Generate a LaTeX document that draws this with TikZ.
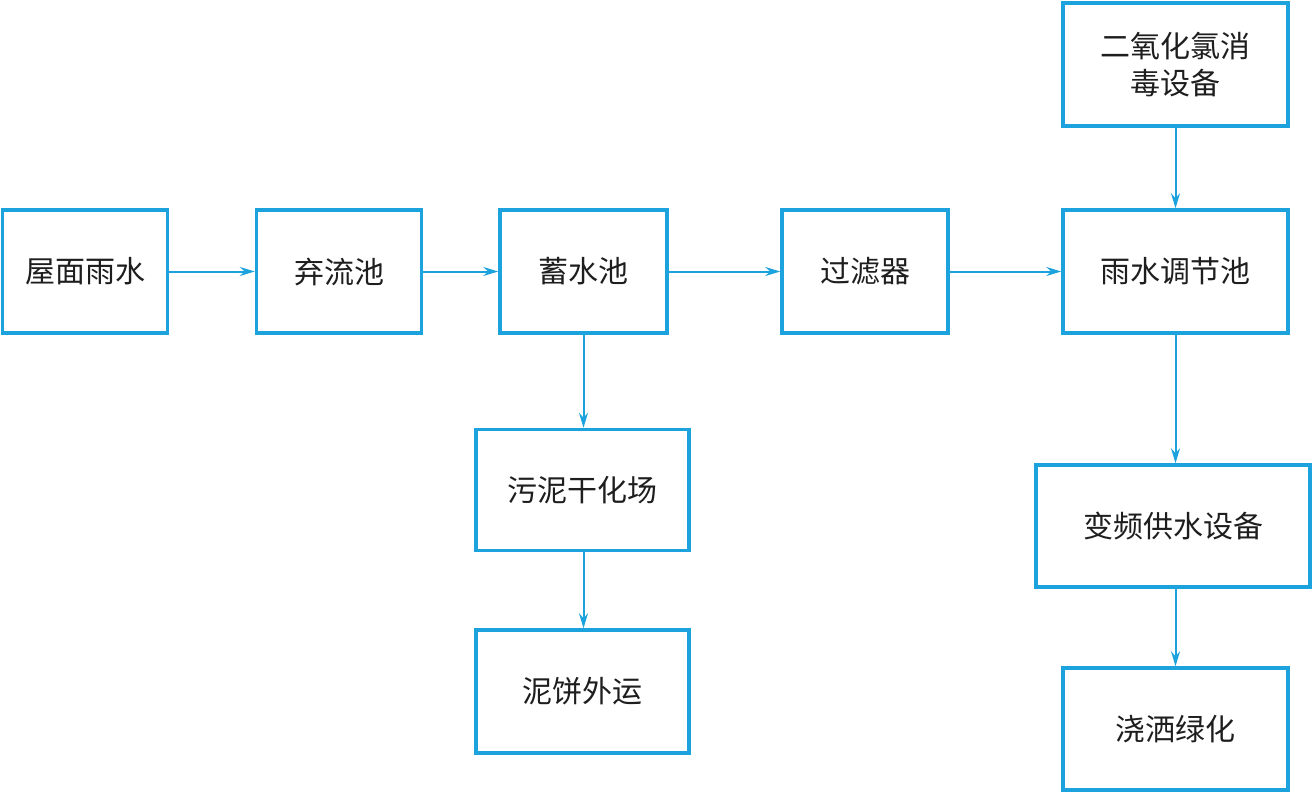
\documentclass[tikz,border=0pt]{standalone}
\usepackage{fontspec}
\newfontfamily\cjk{Noto Sans CJK SC}
\usetikzlibrary{arrows.meta}
\definecolor{lineblue}{HTML}{1CA3DD}
\definecolor{txt}{HTML}{1E1E1E}
\tikzset{
  box/.style={draw=lineblue, line width=3.5pt, rectangle, inner sep=0pt,
    minimum height=123pt, text=txt, font=\cjk\fontsize{30}{37}\selectfont, align=center},
  conn/.style={draw=lineblue, line width=2pt,
    -{Stealth[length=15pt,width=9pt,inset=5pt]}}
}
\begin{document}
\begin{tikzpicture}[x=1pt,y=-1pt]
\useasboundingbox (0,0) rectangle (1313,794);
\node[box, minimum width=165pt] (a) at (85,271.5) {屋面雨水};
\node[box, minimum width=165pt] (b) at (339,271.5) {弃流池};
\node[box, minimum width=167pt] (c) at (583.5,271.5) {蓄水池};
\node[box, minimum width=166pt] (d) at (865,271.5) {过滤器};
\node[box, minimum width=225pt] (e) at (1175.5,271.5) {雨水调节池};
\node[box, minimum width=225pt] (f) at (1175.5,64.5) {二氧化氯消\\毒设备};
\node[box, minimum width=213pt, minimum height=121pt] (g) at (582.5,490) {污泥干化场};
\node[box, minimum width=213pt] (h) at (582.5,691.5) {泥饼外运};
\node[box, minimum width=274pt, minimum height=122pt] (i) at (1173,526) {变频供水设备};
\node[box, minimum width=225pt, minimum height=122pt] (j) at (1175.5,729) {浇洒绿化};
\draw[conn] (a) -- (b);
\draw[conn] (b) -- (c);
\draw[conn] (c) -- (d);
\draw[conn] (d) -- (e);
\draw[conn] (f) -- (e);
\draw[conn] (c.south) -- (c.south |- g.north);
\draw[conn] (c.south |- g.south) -- (c.south |- h.north);
\draw[conn] (e.south) -- (e.south |- i.north);
\draw[conn] (e.south |- i.south) -- (j.north);
\end{tikzpicture}
\end{document}
